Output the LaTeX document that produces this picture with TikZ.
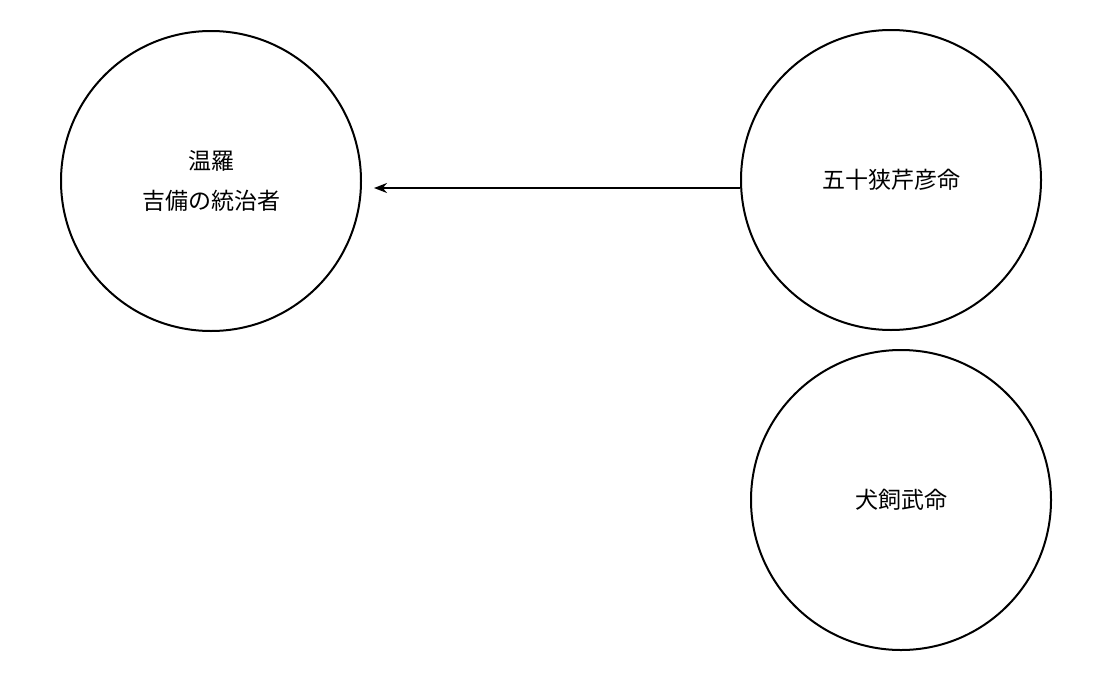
\documentclass[tikz,border=0pt]{standalone}
\usepackage{fontspec}
\newfontfamily\cjk{Noto Sans CJK JP}
\usetikzlibrary{arrows.meta}
\begin{document}
\begin{tikzpicture}[x=1pt,y=-1pt,
  circ/.style={draw,circle,line width=2pt,minimum size=300pt,inner sep=0pt,align=center,font=\cjk\fontsize{23}{40}\selectfont},
  conn/.style={line width=2pt,-{Stealth[length=13pt,width=10pt]}}]
\useasboundingbox (0,0) rectangle (1094,696);
\node[circ] (a) at (211,181) {温羅\\吉備の統治者};
\node[circ] (b) at (891,180) {五十狭芹彦命};
\node[circ] (c) at (901,500) {犬飼武命};
\coordinate (t) at (374,188);
\draw[conn] (b.west |- t) -- (t);
\end{tikzpicture}
\end{document}
